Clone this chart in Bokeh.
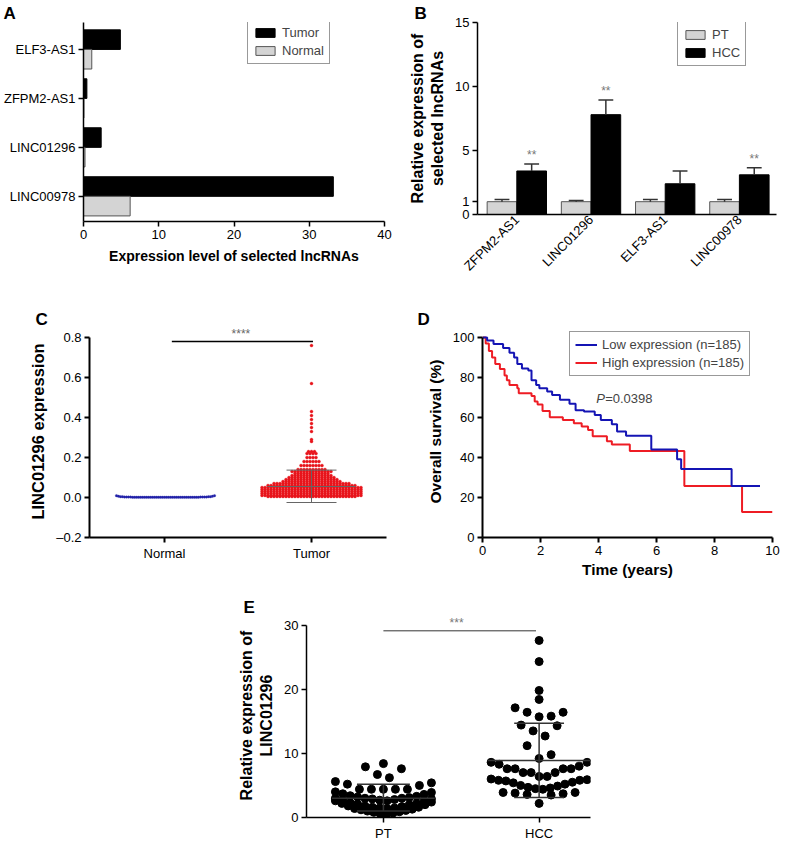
import math
from bokeh.plotting import figure
from bokeh.models import Legend, LegendItem, Label, FixedTicker, Range1d, Spacer
from bokeh.layouts import row, column
from bokeh.embed import file_html
from bokeh.resources import INLINE
from bokeh.core.properties import value

FONT = "Liberation Sans"

# ---------------- Panel A data ----------------
a_genes = ["ELF3-AS1", "ZFPM2-AS1", "LINC01296", "LINC00978"]
a_tumor = [4.9, 0.45, 2.35, 33.2]
a_normal = [1.1, 0.06, 0.2, 6.2]
a_xticks = [0, 10, 20, 30, 40]

# ---------------- Panel B data ----------------
b_genes = ["ZFPM2-AS1", "LINC01296", "ELF3-AS1", "LINC00978"]
b_pt = [1.0, 1.0, 1.0, 1.0]
b_pt_err = [0.18, 0.1, 0.18, 0.18]
b_hcc = [3.4, 7.8, 2.4, 3.1]
b_hcc_err = [0.55, 1.15, 1.0, 0.55]
b_sig = ["**", "**", "", "**"]
b_yticks = [0, 1, 5, 10, 15]

# ---------------- Panel C data ----------------
c_groups = ["Normal", "Tumor"]
c_normal_levels = [0.009, 0.006, 0.004, 0.002, 0.001]
c_normal_counts = [2, 2, 4, 8, 34]
c_tumor_levels = [0.76, 0.57, 0.43, 0.41, 0.39, 0.37, 0.35, 0.33, 0.29, 0.28,
                  0.23, 0.22, 0.20, 0.18, 0.16, 0.14, 0.13, 0.12, 0.11, 0.10,
                  0.09, 0.08, 0.07, 0.06, 0.05, 0.04, 0.03, 0.02, 0.01, 0.005]
c_tumor_counts = [1, 1, 1, 1, 1, 1, 1, 1, 1, 1,
                  3, 4, 4, 6, 8, 10, 14, 12, 14, 16,
                  18, 20, 26, 30, 34, 34, 34, 34, 34, 30]
c_tumor_mean = 0.055
c_tumor_sd_low = -0.025
c_tumor_sd_high = 0.137
c_yticks = [-0.2, 0.0, 0.2, 0.4, 0.6, 0.8]
c_sig_y = 0.78

# ---------------- Panel D data ----------------
d_low_t = [0, 0.16, 0.38, 0.71, 0.93, 1.09, 1.2, 1.36, 1.58, 1.69, 1.85, 1.96, 2.23, 2.4,
           2.67, 3.0, 3.21, 3.5, 3.87, 4.08, 4.46, 4.64, 4.95, 5.82, 6.71, 6.85, 8.59, 9.57]
d_low_s = [100, 98.5, 96.8, 94.8, 92.4, 90.0, 86.7, 84.5, 83.5, 78.6, 76.2, 74.6, 73.0, 71.3,
           68.9, 66.9, 63.6, 63.0, 61.2, 58.7, 56.6, 53.0, 50.9, 44.0, 39.1, 34.3, 25.8, 25.8]
d_high_t = [0, 0.11, 0.22, 0.33, 0.44, 0.6, 0.76, 0.84, 0.93, 1.2, 1.25, 1.69, 1.8, 1.9,
            2.07, 2.32, 2.77, 3.15, 3.42, 3.64, 3.8, 4.29, 4.46, 5.08, 6.96, 8.95, 10.0]
d_high_s = [100, 97, 93.2, 90.0, 86.7, 84.3, 81.0, 78.6, 76.2, 74.6, 72.1, 70.8, 68.0, 66.5,
            63.3, 60.1, 58.7, 57.1, 55.5, 53.8, 50.6, 48.1, 46.5, 43.2, 25.8, 12.7, 12.7]
d_labels = ["Low expression (n=185)", "High expression (n=185)"]
d_p_value = "=0.0398"

# ---------------- Panel E data (rows of dots as laid out in the picture) ----------------
e_groups = ["PT", "HCC"]
e_pt_rows = [
    [8.4],
    [6.2, 6.7, 7.6, 7.9],
    [4.4, 4.4, 4.4, 4.4, 4.4, 5.0, 5.2, 5.4, 5.6],
    [2.6, 2.7, 2.8, 2.9, 3.0, 3.0, 3.1, 3.2, 3.3, 3.4, 3.6, 3.7, 3.9, 4.0],
    [1.4, 1.5, 1.5, 1.6, 1.7, 1.8, 2.0, 2.1, 2.2, 2.3, 2.5, 2.7, 2.9, 3.0],
    [0.5, 0.6, 0.7, 0.8, 0.9, 1.0, 1.1, 1.2, 1.3, 1.4, 1.6, 1.8, 2.0, 2.2, 2.4, 2.6],
]
e_hcc_rows = [
    [27.6], [24.3], [19.8], [18.4],
    [15.7, 15.8, 16.4, 16.4, 17.1],
    [12.7, 13.5, 14.3, 14.4],
    [9.2, 9.8, 11.2],
    [6.4, 6.4, 7.0, 7.0, 7.0, 7.6, 7.6, 7.6, 7.6, 8.0, 8.3, 8.6, 8.6],
    [4.4, 4.5, 4.6, 4.7, 4.9, 5.0, 5.2, 5.4, 5.5, 5.7, 5.8, 5.8, 5.9, 6.0],
    [2.2, 3.5, 3.6, 3.7, 3.8, 3.9, 3.9],
]
e_pt_stats = [1.0, 3.0, 5.2]     # low SD, mean, high SD
e_hcc_stats = [3.1, 8.9, 14.7]
e_sig_y = 29.1
e_yticks = [0, 10, 20, 30]


def style(p, lw=1.5, title_size="15px"):
    p.outline_line_color = None
    p.grid.grid_line_color = None
    p.background_fill_color = "white"
    p.border_fill_color = "white"
    for ax in p.axis:
        ax.axis_line_width = lw
        ax.axis_line_color = "black"
        ax.major_tick_line_width = lw
        ax.major_tick_line_color = "black"
        ax.major_tick_in = 0
        ax.major_tick_out = 5
        ax.minor_tick_line_color = None
        ax.major_label_text_font = FONT
        ax.major_label_text_font_size = "13px"
        ax.major_label_text_color = "black"
        ax.major_label_standoff = 3
        ax.axis_label_text_font = FONT
        ax.axis_label_text_font_size = title_size
        ax.axis_label_text_font_style = "bold"
        ax.axis_label_text_color = "black"
        ax.axis_label_standoff = 6


def letter(p, off, standoff):
    p.title.align = "left"
    p.title.offset = off
    p.title.standoff = standoff
    p.title.text_font = FONT
    p.title.text_font_size = "17px"
    p.title.text_font_style = "bold"
    p.title.text_color = "black"


def style_legend(lg, gw=24, gh=11):
    lg.label_text_font = FONT
    lg.label_text_font_size = "13px"
    lg.border_line_color = "#333333"
    lg.border_line_width = 1
    lg.padding = 5
    lg.spacing = 3
    lg.margin = 0
    lg.glyph_width = gw
    lg.glyph_height = gh
    lg.label_standoff = 5
    lg.label_height = 14
    lg.background_fill_alpha = 1


def rows_layout(rows, max_w, step_max):
    # centre-out placement of each sorted row (smallest value in the middle)
    xs, ys = [], []
    for r in rows:
        vals = sorted(r)
        n = len(vals)
        s = step_max if n < 2 else min(step_max, max_w / (n - 1))
        for k, v in enumerate(vals):
            if n % 2 == 1:
                m = (k + 1) // 2
                off = 0 if k == 0 else (m if k % 2 == 1 else -m)
            else:
                m = k // 2 + 0.5
                off = m if k % 2 == 0 else -m
            xs.append(off * s)
            ys.append(v)
    return xs, ys


GRAY_FILL = "#d4d4d4"
GRAY_LINE = "#555555"

# ================= Panel A =================
pA = figure(title="A", frame_width=301, frame_height=199, min_border_left=83, min_border_right=8,
            min_border_top=22, min_border_bottom=51,
            x_range=Range1d(0, 40), y_range=Range1d(0.486, 4.55),
            output_backend="svg", toolbar_location=None)
a_pos = [len(a_genes) - i for i in range(len(a_genes))]
rA1 = pA.hbar(y=[y + 0.2 for y in a_pos], left=0, right=a_tumor, height=0.4,
              fill_color="black", line_color="black")
rA2 = pA.hbar(y=[y - 0.2 for y in a_pos], left=0, right=a_normal, height=0.4,
              fill_color=GRAY_FILL, line_color=GRAY_LINE)
style(pA, 1.5, "14px")
pA.yaxis.ticker = FixedTicker(ticks=a_pos)
pA.yaxis.major_label_overrides = {y: g for y, g in zip(a_pos, a_genes)}
pA.xaxis.ticker = FixedTicker(ticks=a_xticks)
pA.xaxis.axis_label = "Expression level of selected lncRNAs"
lgA = Legend(items=[LegendItem(label="Tumor", renderers=[rA1]),
                    LegendItem(label="Normal", renderers=[rA2])], location=(164, 157))
style_legend(lgA)
pA.add_layout(lgA)
letter(pA, -80, 0)

# ================= Panel B =================
pB = figure(title="B", frame_width=299, frame_height=192, min_border_left=85, min_border_right=4,
            min_border_top=22, min_border_bottom=58,
            x_range=Range1d(0.47, 4.5), y_range=Range1d(0, 15),
            output_backend="svg", toolbar_location=None)
b_x = [i + 1 for i in range(len(b_genes))]
xpt = [x - 0.2 for x in b_x]
xh = [x + 0.2 for x in b_x]
rB1 = pB.vbar(x=xpt, bottom=0, top=b_pt, width=0.4, fill_color=GRAY_FILL, line_color=GRAY_LINE)
rB2 = pB.vbar(x=xh, bottom=0, top=b_hcc, width=0.4, fill_color="black", line_color="black")
for xs, tops, errs in ((xpt, b_pt, b_pt_err), (xh, b_hcc, b_hcc_err)):
    ends = [t + e for t, e in zip(tops, errs)]
    pB.segment(x0=xs, y0=tops, x1=xs, y1=ends, line_color="#333333", line_width=1.5)
    pB.segment(x0=[x - 0.1 for x in xs], y0=ends, x1=[x + 0.1 for x in xs], y1=ends,
               line_color="#333333", line_width=1.5)
pB.text(x=xh, y=[t + e + 0.15 for t, e in zip(b_hcc, b_hcc_err)], text=b_sig,
        text_align="center", text_baseline="bottom", text_font=value(FONT),
        text_font_size="12px", text_color="#777777")
style(pB, 1.5, "16px")
pB.yaxis.ticker = FixedTicker(ticks=b_yticks)
pB.xaxis.ticker = FixedTicker(ticks=b_x)
pB.xaxis.major_label_overrides = {x: g for x, g in zip(b_x, b_genes)}
pB.xaxis.major_label_orientation = math.pi / 4
pB.xaxis.major_tick_line_color = None
pB.xaxis.major_tick_out = 0
pB.xaxis.major_label_text_font_size = "13px"
pB.yaxis.axis_label = "Relative expression of\nselected lncRNAs"
lgB = Legend(items=[LegendItem(label="PT", renderers=[rB1]),
                    LegendItem(label="HCC", renderers=[rB2])], location=(200, 148))
style_legend(lgB)
pB.add_layout(lgB)
letter(pB, -63, 0)

# ================= Panel C =================
pC = figure(title="C", frame_width=297, frame_height=212, min_border_left=89, min_border_right=6,
            min_border_top=44, min_border_bottom=44,
            x_range=Range1d(0.49, 2.51), y_range=Range1d(-0.2, 0.86),
            output_backend="svg", toolbar_location=None)
c_pxu = 297 / 2.02
dx_t = 3.0 / c_pxu
tx, ty = [], []
for lvl, n in zip(c_tumor_levels, c_tumor_counts):
    for k in range(n):
        tx.append(2 + (k - (n - 1) / 2) * dx_t)
        ty.append(lvl)
nvals = []
for lvl, n in zip(c_normal_levels, c_normal_counts):
    nvals += [lvl] * n
nvals.sort()
dx_n = 2.0 / c_pxu
nx = []
for k in range(len(nvals)):
    off = (k + 1) // 2 * (1 if k % 2 == 1 else -1)
    nx.append(1 + off * dx_n)
pC.scatter(x=nx, y=nvals, size=2.5, marker="circle", fill_color="#1f1fa8",
           line_color="#1f1fa8", line_width=0.3)
pC.scatter(x=tx, y=ty, size=3, marker="circle", fill_color="#e8141b",
           line_color="#e8141b", line_width=0.3)
pC.segment(x0=[1.7, 1.83, 1.83, 2], y0=[c_tumor_mean, c_tumor_sd_high, c_tumor_sd_low, c_tumor_sd_low],
           x1=[2.3, 2.17, 2.17, 2], y1=[c_tumor_mean, c_tumor_sd_high, c_tumor_sd_low, c_tumor_sd_high],
           line_color="#666666", line_width=1)
pC.segment(x0=[1.05], y0=[c_sig_y], x1=[2.01], y1=[c_sig_y], line_color="black", line_width=1.5)
pC.text(x=[1.52], y=[c_sig_y + 0.005], text=["****"], text_align="center", text_baseline="bottom",
        text_font=value(FONT), text_font_size="12px", text_color="#666666")
style(pC, 2, "16.5px")
pC.xaxis.ticker = FixedTicker(ticks=[1, 2])
pC.xaxis.major_label_overrides = {1: c_groups[0], 2: c_groups[1]}
pC.yaxis.ticker = FixedTicker(ticks=c_yticks)
pC.yaxis.bounds = (c_yticks[0], c_yticks[-1])
pC.yaxis.major_label_overrides = {t: ("\u2013" if t < 0 else "") + f"{abs(t):.1f}" for t in c_yticks}
pC.yaxis.axis_label = "LINC01296 expression"
letter(pC, -54, -6)

# ================= Panel D =================
pD = figure(title="D", frame_width=290, frame_height=212, min_border_left=90, min_border_right=8,
            min_border_top=44, min_border_bottom=44,
            x_range=Range1d(0, 10), y_range=Range1d(0, 106),
            output_backend="svg", toolbar_location=None)
rD2 = pD.step(x=d_high_t, y=d_high_s, mode="after", line_color="#ee1c24", line_width=2)
rD1 = pD.step(x=d_low_t, y=d_low_s, mode="after", line_color="#1414b4", line_width=2)
style(pD, 2, "15.5px")
pD.xaxis.axis_label_standoff = 3
pD.xaxis.ticker = FixedTicker(ticks=[0, 2, 4, 6, 8, 10])
pD.yaxis.ticker = FixedTicker(ticks=[0, 20, 40, 60, 80, 100])
pD.yaxis.bounds = (0, 100)
pD.xaxis.axis_label = "Time (years)"
pD.yaxis.axis_label = "Overall survival (%)"
lgD = Legend(items=[LegendItem(label=d_labels[0], renderers=[rD1]),
                    LegendItem(label=d_labels[1], renderers=[rD2])], location=(87, 161))
style_legend(lgD, gw=22, gh=11)
pD.add_layout(lgD)
pD.add_layout(Label(x=3.92, y=69.5, text="P", text_font=FONT, text_font_size="13px",
                    text_font_style="italic", text_baseline="middle"))
pD.add_layout(Label(x=3.92, y=69.5, x_offset=9, text=d_p_value, text_font=FONT,
                    text_font_size="13px", text_baseline="middle"))
letter(pD, -65, -6)

# ================= Panel E =================
pE = figure(title="E", frame_width=284, frame_height=204, min_border_left=96, min_border_right=10,
            min_border_top=32, min_border_bottom=24,
            x_range=Range1d(0.506, 2.33), y_range=Range1d(0, 31.8),
            output_backend="svg", toolbar_location=None)
e_xpx = 284 / 1.824
ex, ey = [], []
for gi, rows in ((1, e_pt_rows), (2, e_hcc_rows)):
    ox, oy = rows_layout(rows, 96.0, 12.0)
    ex += [gi + o / e_xpx for o in ox]
    ey += oy
pE.scatter(x=ex, y=ey, size=8, marker="circle", fill_color="black", line_color="black")
for gi, st, mw, sw in ((1, e_pt_stats, 0.33, 0.17), (2, e_hcc_stats, 0.33, 0.16)):
    lo, mu, hi = st
    pE.segment(x0=[gi - mw, gi - sw, gi - sw, gi], y0=[mu, hi, lo, lo],
               x1=[gi + mw, gi + sw, gi + sw, gi], y1=[mu, hi, lo, hi],
               line_color="#333333", line_width=1.5)
pE.segment(x0=[1.0], y0=[e_sig_y], x1=[1.98], y1=[e_sig_y], line_color="#333333", line_width=1)
pE.text(x=[1.47], y=[e_sig_y + 0.1], text=["***"], text_align="center", text_baseline="bottom",
        text_font=value(FONT), text_font_size="12px", text_color="#777777")
style(pE, 1.5, "16px")
pE.xaxis.ticker = FixedTicker(ticks=[1, 2])
pE.xaxis.major_label_overrides = {1: e_groups[0], 2: e_groups[1]}
pE.yaxis.ticker = FixedTicker(ticks=e_yticks)
pE.yaxis.bounds = (e_yticks[0], e_yticks[-1])
pE.yaxis.axis_label = "Relative expression of\nLINC01296"
letter(pE, -63, -6)

layout = column(row(pA, pB), row(pC, pD), row(Spacer(width=210, height=10), pE))
open("out.html", "w").write(file_html(layout, INLINE))
